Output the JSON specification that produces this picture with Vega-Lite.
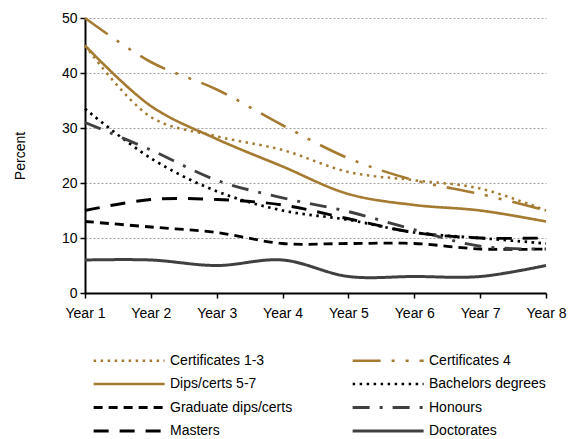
{
  "$schema": "https://vega.github.io/schema/vega-lite/v6.json",
  "width": 461,
  "height": 275,
  "autosize": {"type": "none"},
  "padding": {"left": 85, "top": 18, "right": 39, "bottom": 146},
  "background": "white",
  "config": {
    "font": "Liberation Sans",
    "view": {"stroke": null},
    "axis": {"labelFont": "Liberation Sans", "titleFont": "Liberation Sans", "labelColor": "#000", "titleColor": "#000"}
  },
  "data": {"values": [
    {"year": "Year 1", "series": "Certificates 1-3", "value": 45},
    {"year": "Year 2", "series": "Certificates 1-3", "value": 32},
    {"year": "Year 3", "series": "Certificates 1-3", "value": 28.5},
    {"year": "Year 4", "series": "Certificates 1-3", "value": 26},
    {"year": "Year 5", "series": "Certificates 1-3", "value": 22},
    {"year": "Year 6", "series": "Certificates 1-3", "value": 20.5},
    {"year": "Year 7", "series": "Certificates 1-3", "value": 19},
    {"year": "Year 8", "series": "Certificates 1-3", "value": 15},
    {"year": "Year 1", "series": "Certificates 4", "value": 50},
    {"year": "Year 2", "series": "Certificates 4", "value": 42},
    {"year": "Year 3", "series": "Certificates 4", "value": 37},
    {"year": "Year 4", "series": "Certificates 4", "value": 30.5},
    {"year": "Year 5", "series": "Certificates 4", "value": 24.5},
    {"year": "Year 6", "series": "Certificates 4", "value": 20.5},
    {"year": "Year 7", "series": "Certificates 4", "value": 18},
    {"year": "Year 8", "series": "Certificates 4", "value": 15},
    {"year": "Year 1", "series": "Dips/certs 5-7", "value": 45},
    {"year": "Year 2", "series": "Dips/certs 5-7", "value": 34},
    {"year": "Year 3", "series": "Dips/certs 5-7", "value": 28},
    {"year": "Year 4", "series": "Dips/certs 5-7", "value": 23},
    {"year": "Year 5", "series": "Dips/certs 5-7", "value": 18},
    {"year": "Year 6", "series": "Dips/certs 5-7", "value": 16},
    {"year": "Year 7", "series": "Dips/certs 5-7", "value": 15},
    {"year": "Year 8", "series": "Dips/certs 5-7", "value": 13},
    {"year": "Year 1", "series": "Bachelors degrees", "value": 33.5},
    {"year": "Year 2", "series": "Bachelors degrees", "value": 24.5},
    {"year": "Year 3", "series": "Bachelors degrees", "value": 18.5},
    {"year": "Year 4", "series": "Bachelors degrees", "value": 15},
    {"year": "Year 5", "series": "Bachelors degrees", "value": 13.3},
    {"year": "Year 6", "series": "Bachelors degrees", "value": 11},
    {"year": "Year 7", "series": "Bachelors degrees", "value": 10},
    {"year": "Year 8", "series": "Bachelors degrees", "value": 9},
    {"year": "Year 1", "series": "Graduate dips/certs", "value": 13},
    {"year": "Year 2", "series": "Graduate dips/certs", "value": 12},
    {"year": "Year 3", "series": "Graduate dips/certs", "value": 11},
    {"year": "Year 4", "series": "Graduate dips/certs", "value": 9},
    {"year": "Year 5", "series": "Graduate dips/certs", "value": 9},
    {"year": "Year 6", "series": "Graduate dips/certs", "value": 9},
    {"year": "Year 7", "series": "Graduate dips/certs", "value": 8},
    {"year": "Year 8", "series": "Graduate dips/certs", "value": 8},
    {"year": "Year 1", "series": "Honours", "value": 31},
    {"year": "Year 2", "series": "Honours", "value": 26},
    {"year": "Year 3", "series": "Honours", "value": 20.5},
    {"year": "Year 4", "series": "Honours", "value": 17.3},
    {"year": "Year 5", "series": "Honours", "value": 14.8},
    {"year": "Year 6", "series": "Honours", "value": 11.5},
    {"year": "Year 7", "series": "Honours", "value": 8.5},
    {"year": "Year 8", "series": "Honours", "value": 8},
    {"year": "Year 1", "series": "Masters", "value": 15},
    {"year": "Year 2", "series": "Masters", "value": 17},
    {"year": "Year 3", "series": "Masters", "value": 17},
    {"year": "Year 4", "series": "Masters", "value": 16},
    {"year": "Year 5", "series": "Masters", "value": 13.5},
    {"year": "Year 6", "series": "Masters", "value": 11},
    {"year": "Year 7", "series": "Masters", "value": 10},
    {"year": "Year 8", "series": "Masters", "value": 10},
    {"year": "Year 1", "series": "Doctorates", "value": 6},
    {"year": "Year 2", "series": "Doctorates", "value": 6},
    {"year": "Year 3", "series": "Doctorates", "value": 5},
    {"year": "Year 4", "series": "Doctorates", "value": 6},
    {"year": "Year 5", "series": "Doctorates", "value": 3},
    {"year": "Year 6", "series": "Doctorates", "value": 3},
    {"year": "Year 7", "series": "Doctorates", "value": 3},
    {"year": "Year 8", "series": "Doctorates", "value": 5}
  ]},
  "mark": {"type": "line", "interpolate": "catmull-rom", "strokeCap": "butt"},
  "encoding": {
    "x": {
      "field": "year", "type": "ordinal",
      "scale": {"type": "point", "padding": 0},
      "axis": {"title": null, "labelAngle": 0, "labelFontSize": 14, "domainColor": "#000", "domainWidth": 2, "tickColor": "#000", "tickWidth": 1.5, "tickSize": 5, "labelPadding": 8, "grid": false}
    },
    "y": {
      "field": "value", "type": "quantitative",
      "scale": {"domain": [0, 50], "nice": false},
      "axis": {"title": "Percent", "titleFontSize": 14, "titleFontWeight": "normal", "titlePadding": 34, "values": [0, 10, 20, 30, 40, 50], "labelFontSize": 14, "domainColor": "#000", "domainWidth": 2, "tickColor": "#000", "tickWidth": 1.5, "tickSize": 5, "labelPadding": 3, "grid": true, "gridColor": "#a0a0a0", "gridDash": [2, 2], "gridWidth": 1}
    },
    "color": {
      "field": "series", "type": "nominal",
      "scale": {
        "domain": ["Certificates 1-3", "Certificates 4", "Dips/certs 5-7", "Bachelors degrees", "Graduate dips/certs", "Honours", "Masters", "Doctorates"],
        "range": ["#A57B32", "#A57B32", "#A57B32", "#000000", "#000000", "#404040", "#000000", "#404040"]
      },
      "legend": {
        "title": null, "orient": "none", "legendX": 7, "legendY": 332, "columns": 2, "direction": "horizontal",
        "symbolType": "M-1,0H7", "symbolSize": 315, "labelFontSize": 14, "labelOffset": 57,
        "columnPadding": 53, "rowPadding": 5.5, "labelColor": "#000", "symbolFillColor": "transparent"
      }
    },
    "strokeDash": {
      "field": "series", "type": "nominal",
      "scale": {
        "domain": ["Certificates 1-3", "Certificates 4", "Dips/certs 5-7", "Bachelors degrees", "Graduate dips/certs", "Honours", "Masters", "Doctorates"],
        "range": [[2.5, 4.5], [28, 11, 3, 11, 3, 11], [1, 0], [2.5, 4.5], [9, 6], [17, 10, 3, 10], [15, 11], [1, 0]]
      },
      "legend": null
    },
    "strokeWidth": {
      "field": "series", "type": "nominal",
      "scale": {
        "domain": ["Certificates 1-3", "Certificates 4", "Dips/certs 5-7", "Bachelors degrees", "Graduate dips/certs", "Honours", "Masters", "Doctorates"],
        "range": [2.5, 3, 3, 2.5, 3.5, 3, 3.5, 3]
      },
      "legend": null
    }
  }
}
